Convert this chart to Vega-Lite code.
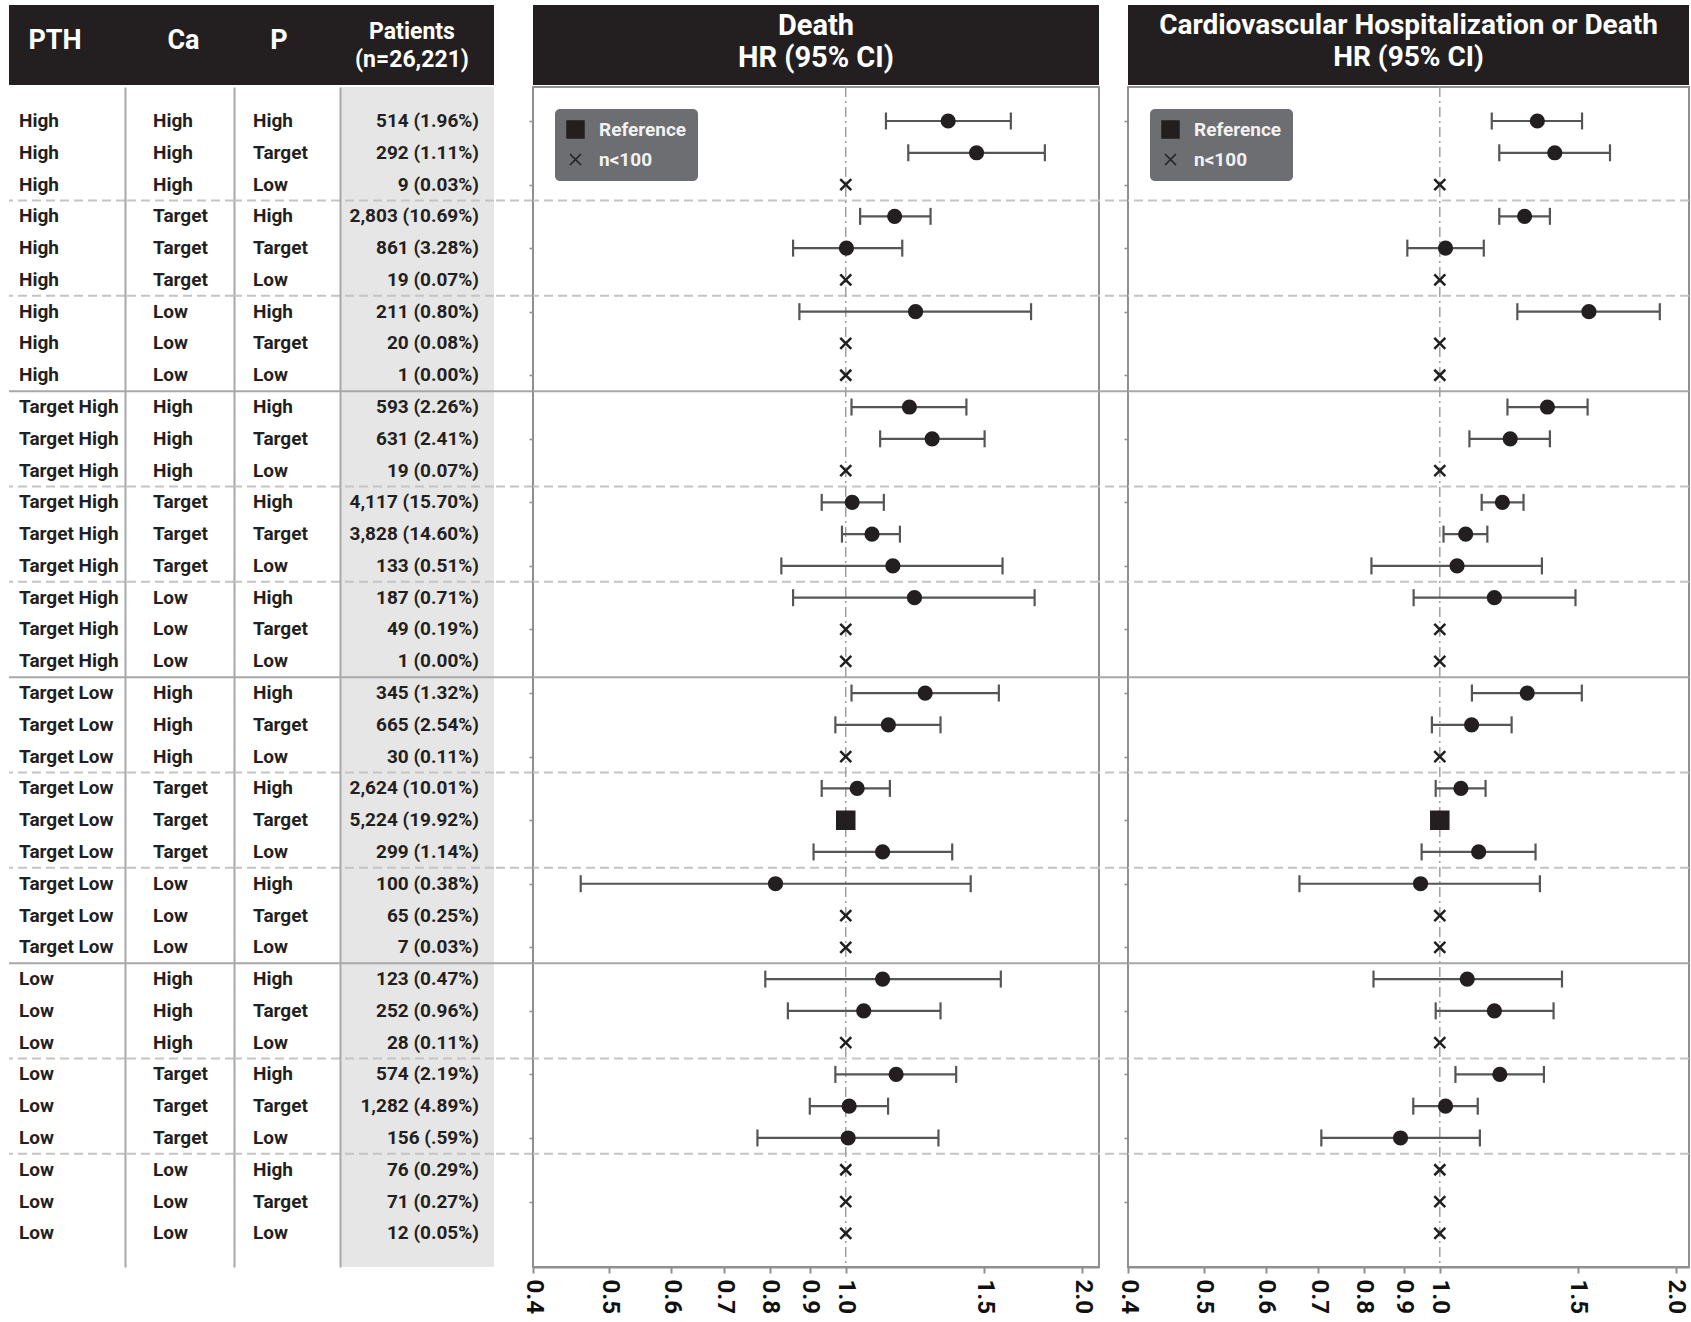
{
  "$schema": "https://vega.github.io/schema/vega-lite/v6.json",
  "background": "white",
  "padding": {"top": 5, "left": 8, "right": 0, "bottom": 0},
  "config": {
    "font": "Roboto, Liberation Sans, sans-serif",
    "view": {"stroke": null}
  },
  "datasets": {
    "headers": [
      {"key": "PTH", "label": "PTH"},
      {"key": "Ca", "label": "Ca"},
      {"key": "P", "label": "P"},
      {"key": "Patients", "label": "Patients\n(n=26,221)"},
      {"key": "Death", "label": "Death\nHR (95% CI)"},
      {"key": "CV", "label": "Cardiovascular Hospitalization or Death\nHR (95% CI)"}
    ],
    "seps": [
      {"sep": 3.5, "style": "dash"}, {"sep": 6.5, "style": "dash"}, {"sep": 9.5, "style": "solid"},
      {"sep": 12.5, "style": "dash"}, {"sep": 15.5, "style": "dash"}, {"sep": 18.5, "style": "solid"},
      {"sep": 21.5, "style": "dash"}, {"sep": 24.5, "style": "dash"}, {"sep": 27.5, "style": "solid"},
      {"sep": 30.5, "style": "dash"}, {"sep": 33.5, "style": "dash"}
    ],
    "refline": [{"hr": 1}],
    "rows": [
      {"row": 1, "pth": "High", "ca": "High", "p": "High", "n": "514 (1.96%)", "kind": "est", "dhr": 1.350, "dlo": 1.125, "dhi": 1.622, "chr": 1.332, "clo": 1.165, "chi": 1.519},
      {"row": 2, "pth": "High", "ca": "High", "p": "Target", "n": "292 (1.11%)", "kind": "est", "dhr": 1.467, "dlo": 1.201, "dhi": 1.792, "chr": 1.402, "clo": 1.191, "chi": 1.649},
      {"row": 3, "pth": "High", "ca": "High", "p": "Low", "n": "9 (0.03%)", "kind": "n<100", "dhr": 1, "chr": 1},
      {"row": 4, "pth": "High", "ca": "Target", "p": "High", "n": "2,803 (10.69%)", "kind": "est", "dhr": 1.154, "dlo": 1.043, "dhi": 1.282, "chr": 1.283, "clo": 1.191, "chi": 1.382},
      {"row": 5, "pth": "High", "ca": "Target", "p": "Target", "n": "861 (3.28%)", "kind": "est", "dhr": 1.002, "dlo": 0.857, "dhi": 1.180, "chr": 1.017, "clo": 0.909, "chi": 1.138},
      {"row": 6, "pth": "High", "ca": "Target", "p": "Low", "n": "19 (0.07%)", "kind": "n<100", "dhr": 1, "chr": 1},
      {"row": 7, "pth": "High", "ca": "Low", "p": "High", "n": "211 (0.80%)", "kind": "est", "dhr": 1.227, "dlo": 0.873, "dhi": 1.721, "chr": 1.550, "clo": 1.256, "chi": 1.909},
      {"row": 8, "pth": "High", "ca": "Low", "p": "Target", "n": "20 (0.08%)", "kind": "n<100", "dhr": 1, "chr": 1},
      {"row": 9, "pth": "High", "ca": "Low", "p": "Low", "n": "1 (0.00%)", "kind": "n<100", "dhr": 1, "chr": 1},
      {"row": 10, "pth": "Target High", "ca": "High", "p": "High", "n": "593 (2.26%)", "kind": "est", "dhr": 1.205, "dlo": 1.017, "dhi": 1.424, "chr": 1.372, "clo": 1.220, "chi": 1.544},
      {"row": 11, "pth": "Target High", "ca": "High", "p": "Target", "n": "631 (2.41%)", "kind": "est", "dhr": 1.288, "dlo": 1.106, "dhi": 1.502, "chr": 1.230, "clo": 1.091, "chi": 1.382},
      {"row": 12, "pth": "Target High", "ca": "High", "p": "Low", "n": "19 (0.07%)", "kind": "n<100", "dhr": 1, "chr": 1},
      {"row": 13, "pth": "Target High", "ca": "Target", "p": "High", "n": "4,117 (15.70%)", "kind": "est", "dhr": 1.019, "dlo": 0.932, "dhi": 1.118, "chr": 1.202, "clo": 1.131, "chi": 1.279},
      {"row": 14, "pth": "Target High", "ca": "Target", "p": "Target", "n": "3,828 (14.60%)", "kind": "est", "dhr": 1.080, "dlo": 0.989, "dhi": 1.172, "chr": 1.079, "clo": 1.011, "chi": 1.150},
      {"row": 15, "pth": "Target High", "ca": "Target", "p": "Low", "n": "133 (0.51%)", "kind": "est", "dhr": 1.148, "dlo": 0.828, "dhi": 1.583, "chr": 1.052, "clo": 0.818, "chi": 1.350},
      {"row": 16, "pth": "Target High", "ca": "Low", "p": "High", "n": "187 (0.71%)", "kind": "est", "dhr": 1.223, "dlo": 0.857, "dhi": 1.739, "chr": 1.174, "clo": 0.926, "chi": 1.490},
      {"row": 17, "pth": "Target High", "ca": "Low", "p": "Target", "n": "49 (0.19%)", "kind": "n<100", "dhr": 1, "chr": 1},
      {"row": 18, "pth": "Target High", "ca": "Low", "p": "Low", "n": "1 (0.00%)", "kind": "n<100", "dhr": 1, "chr": 1},
      {"row": 19, "pth": "Target Low", "ca": "High", "p": "High", "n": "345 (1.32%)", "kind": "est", "dhr": 1.262, "dlo": 1.017, "dhi": 1.566, "chr": 1.293, "clo": 1.099, "chi": 1.518},
      {"row": 20, "pth": "Target Low", "ca": "High", "p": "Target", "n": "665 (2.54%)", "kind": "est", "dhr": 1.133, "dlo": 0.970, "dhi": 1.320, "chr": 1.098, "clo": 0.977, "chi": 1.235},
      {"row": 21, "pth": "Target Low", "ca": "High", "p": "Low", "n": "30 (0.11%)", "kind": "n<100", "dhr": 1, "chr": 1},
      {"row": 22, "pth": "Target Low", "ca": "Target", "p": "High", "n": "2,624 (10.01%)", "kind": "est", "dhr": 1.034, "dlo": 0.932, "dhi": 1.138, "chr": 1.064, "clo": 0.988, "chi": 1.144},
      {"row": 23, "pth": "Target Low", "ca": "Target", "p": "Target", "n": "5,224 (19.92%)", "kind": "Reference", "dhr": 1, "chr": 1},
      {"row": 24, "pth": "Target Low", "ca": "Target", "p": "Low", "n": "299 (1.14%)", "kind": "est", "dhr": 1.114, "dlo": 0.910, "dhi": 1.366, "chr": 1.121, "clo": 0.948, "chi": 1.325},
      {"row": 25, "pth": "Target Low", "ca": "Low", "p": "High", "n": "100 (0.38%)", "kind": "est", "dhr": 0.814, "dlo": 0.460, "dhi": 1.442, "chr": 0.945, "clo": 0.662, "chi": 1.342},
      {"row": 26, "pth": "Target Low", "ca": "Low", "p": "Target", "n": "65 (0.25%)", "kind": "n<100", "dhr": 1, "chr": 1},
      {"row": 27, "pth": "Target Low", "ca": "Low", "p": "Low", "n": "7 (0.03%)", "kind": "n<100", "dhr": 1, "chr": 1},
      {"row": 28, "pth": "Low", "ca": "High", "p": "High", "n": "123 (0.47%)", "kind": "est", "dhr": 1.114, "dlo": 0.790, "dhi": 1.575, "chr": 1.084, "clo": 0.823, "chi": 1.432},
      {"row": 29, "pth": "Low", "ca": "High", "p": "Target", "n": "252 (0.96%)", "kind": "est", "dhr": 1.054, "dlo": 0.844, "dhi": 1.320, "chr": 1.174, "clo": 0.988, "chi": 1.397},
      {"row": 30, "pth": "Low", "ca": "High", "p": "Low", "n": "28 (0.11%)", "kind": "n<100", "dhr": 1, "chr": 1},
      {"row": 31, "pth": "Low", "ca": "Target", "p": "High", "n": "574 (2.19%)", "kind": "est", "dhr": 1.159, "dlo": 0.970, "dhi": 1.382, "chr": 1.193, "clo": 1.047, "chi": 1.358},
      {"row": 32, "pth": "Low", "ca": "Target", "p": "Target", "n": "1,282 (4.89%)", "kind": "est", "dhr": 1.010, "dlo": 0.900, "dhi": 1.132, "chr": 1.017, "clo": 0.925, "chi": 1.118},
      {"row": 33, "pth": "Low", "ca": "Target", "p": "Low", "n": "156 (.59%)", "kind": "est", "dhr": 1.007, "dlo": 0.772, "dhi": 1.312, "chr": 0.891, "clo": 0.706, "chi": 1.125},
      {"row": 34, "pth": "Low", "ca": "Low", "p": "High", "n": "76 (0.29%)", "kind": "n<100", "dhr": 1, "chr": 1},
      {"row": 35, "pth": "Low", "ca": "Low", "p": "Target", "n": "71 (0.27%)", "kind": "n<100", "dhr": 1, "chr": 1},
      {"row": 36, "pth": "Low", "ca": "Low", "p": "Low", "n": "12 (0.05%)", "kind": "n<100", "dhr": 1, "chr": 1}
    ]
  },
  "spacing": 0,
  "resolve": {"scale": {"shape": "independent", "size": "independent", "strokeDash": "independent", "color": "independent"}, "legend": {"shape": "independent", "size": "independent"}},
  "vconcat": [
    {
      "bounds": "flush",
      "spacing": 0,
      "hconcat": [
        {"width": 116, "height": 80, "view": {"fill": "#231f20", "stroke": null}, "data": {"name": "headers"}, "transform": [{"filter": "datum.key == 'PTH'"}],
         "mark": {"type": "text", "color": "white", "fontSize": 27, "fontWeight": "bold", "align": "center", "baseline": "middle", "dx": -12, "dy": -4, "lineBreak": "\n"},
         "encoding": {"text": {"field": "label"}}},
        {"width": 109, "height": 80, "view": {"fill": "#231f20", "stroke": null}, "data": {"name": "headers"}, "transform": [{"filter": "datum.key == 'Ca'"}],
         "mark": {"type": "text", "color": "white", "fontSize": 27, "fontWeight": "bold", "align": "center", "baseline": "middle", "dx": 4, "dy": -4, "lineBreak": "\n"},
         "encoding": {"text": {"field": "label"}}},
        {"width": 106, "height": 80, "view": {"fill": "#231f20", "stroke": null}, "data": {"name": "headers"}, "transform": [{"filter": "datum.key == 'P'"}],
         "mark": {"type": "text", "color": "white", "fontSize": 27, "fontWeight": "bold", "align": "center", "baseline": "middle", "dx": -8, "dy": -4, "lineBreak": "\n"},
         "encoding": {"text": {"field": "label"}}},
        {"width": 154, "height": 80, "view": {"fill": "#231f20", "stroke": null}, "data": {"name": "headers"}, "transform": [{"filter": "datum.key == 'Patients'"}],
         "mark": {"type": "text", "color": "white", "fontSize": 23, "fontWeight": "bold", "align": "center", "baseline": "middle", "dx": -5, "dy": -13, "lineBreak": "\n", "lineHeight": 28},
         "encoding": {"text": {"field": "label"}}},
        {"width": 39, "height": 80, "data": {"values": []}, "mark": "text", "encoding": {}},
        {"width": 566, "height": 80, "view": {"fill": "#231f20", "stroke": null}, "data": {"name": "headers"}, "transform": [{"filter": "datum.key == 'Death'"}],
         "mark": {"type": "text", "color": "white", "fontSize": 29, "fontWeight": "bold", "align": "center", "baseline": "middle", "dy": -19, "lineBreak": "\n", "lineHeight": 32},
         "encoding": {"text": {"field": "label"}}},
        {"width": 29, "height": 80, "data": {"values": []}, "mark": "text", "encoding": {}},
        {"width": 561, "height": 80, "view": {"fill": "#231f20", "stroke": null}, "data": {"name": "headers"}, "transform": [{"filter": "datum.key == 'CV'"}],
         "mark": {"type": "text", "color": "white", "fontSize": 28, "fontWeight": "bold", "align": "center", "baseline": "middle", "dy": -19, "lineBreak": "\n", "lineHeight": 32},
         "encoding": {"text": {"field": "label"}}}
      ]
    },
    {
      "bounds": "flush",
      "spacing": 0,
      "resolve": {"scale": {"shape": "independent", "size": "independent", "strokeDash": "independent", "color": "independent"}, "legend": {"shape": "independent", "size": "independent"}},
      "hconcat": [
        {"width": 116, "height": 1180,
         "layer": [
           {"data": {"name": "seps"}, "mark": {"type": "rule", "strokeWidth": 2},
            "encoding": {"y": {"field": "sep", "type": "quantitative", "scale": {"domain": [-0.07, 37.06], "reverse": true, "nice": false, "zero": false}, "axis": null},
                         "strokeDash": {"field": "style", "type": "nominal", "scale": {"domain": ["dash", "solid"], "range": [[9, 5], [1, 0]]}, "legend": null},
                         "color": {"field": "style", "type": "nominal", "scale": {"domain": ["dash", "solid"], "range": ["#c4c4c4", "#a8a8a8"]}, "legend": null}}},
           {"data": {"name": "rows"}, "mark": {"type": "text", "align": "left", "baseline": "middle", "dx": 10, "fontSize": 19, "fontWeight": "bold", "color": "#231f20"},
            "encoding": {"y": {"field": "row", "type": "quantitative", "scale": {"domain": [-0.07, 37.06], "reverse": true, "nice": false, "zero": false}, "axis": null},
                         "x": {"datum": "PTH", "type": "nominal", "bandPosition": 0, "scale": {"type": "band", "paddingInner": 0, "paddingOuter": 0}, "axis": null},
                         "text": {"field": "pth"}}}
         ]},
        {"width": 109, "height": 1180,
         "layer": [
           {"data": {"name": "seps"}, "mark": {"type": "rule", "strokeWidth": 2},
            "encoding": {"y": {"field": "sep", "type": "quantitative", "scale": {"domain": [-0.07, 37.06], "reverse": true, "nice": false, "zero": false}, "axis": {"domain": true, "domainColor": "#a8a8a8", "domainWidth": 2, "ticks": false, "labels": false, "grid": false, "title": null}},
                         "strokeDash": {"field": "style", "type": "nominal", "scale": {"domain": ["dash", "solid"], "range": [[9, 5], [1, 0]]}, "legend": null},
                         "color": {"field": "style", "type": "nominal", "scale": {"domain": ["dash", "solid"], "range": ["#c4c4c4", "#a8a8a8"]}, "legend": null}}},
           {"data": {"name": "rows"}, "mark": {"type": "text", "align": "left", "baseline": "middle", "dx": 28, "fontSize": 19, "fontWeight": "bold", "color": "#231f20"},
            "encoding": {"y": {"field": "row", "type": "quantitative", "scale": {"domain": [-0.07, 37.06], "reverse": true, "nice": false, "zero": false}, "axis": {"domain": true, "domainColor": "#a8a8a8", "domainWidth": 2, "ticks": false, "labels": false, "grid": false, "title": null}},
                         "x": {"datum": "Ca", "type": "nominal", "bandPosition": 0, "scale": {"type": "band", "paddingInner": 0, "paddingOuter": 0}, "axis": null},
                         "text": {"field": "ca"}}}
         ]},
        {"width": 106, "height": 1180,
         "layer": [
           {"data": {"name": "seps"}, "mark": {"type": "rule", "strokeWidth": 2},
            "encoding": {"y": {"field": "sep", "type": "quantitative", "scale": {"domain": [-0.07, 37.06], "reverse": true, "nice": false, "zero": false}, "axis": {"domain": true, "domainColor": "#a8a8a8", "domainWidth": 2, "ticks": false, "labels": false, "grid": false, "title": null}},
                         "strokeDash": {"field": "style", "type": "nominal", "scale": {"domain": ["dash", "solid"], "range": [[9, 5], [1, 0]]}, "legend": null},
                         "color": {"field": "style", "type": "nominal", "scale": {"domain": ["dash", "solid"], "range": ["#c4c4c4", "#a8a8a8"]}, "legend": null}}},
           {"data": {"name": "rows"}, "mark": {"type": "text", "align": "left", "baseline": "middle", "dx": 19, "fontSize": 19, "fontWeight": "bold", "color": "#231f20"},
            "encoding": {"y": {"field": "row", "type": "quantitative", "scale": {"domain": [-0.07, 37.06], "reverse": true, "nice": false, "zero": false}, "axis": {"domain": true, "domainColor": "#a8a8a8", "domainWidth": 2, "ticks": false, "labels": false, "grid": false, "title": null}},
                         "x": {"datum": "P", "type": "nominal", "bandPosition": 0, "scale": {"type": "band", "paddingInner": 0, "paddingOuter": 0}, "axis": null},
                         "text": {"field": "p"}}}
         ]},
        {"width": 154, "height": 1180, "view": {"fill": "#e6e6e6", "stroke": null},
         "layer": [
           {"data": {"name": "seps"}, "mark": {"type": "rule", "strokeWidth": 2},
            "encoding": {"y": {"field": "sep", "type": "quantitative", "scale": {"domain": [-0.07, 37.06], "reverse": true, "nice": false, "zero": false}, "axis": {"domain": true, "domainColor": "#a8a8a8", "domainWidth": 2, "ticks": false, "labels": false, "grid": false, "title": null}},
                         "strokeDash": {"field": "style", "type": "nominal", "scale": {"domain": ["dash", "solid"], "range": [[9, 5], [1, 0]]}, "legend": null},
                         "color": {"field": "style", "type": "nominal", "scale": {"domain": ["dash", "solid"], "range": ["#c4c4c4", "#a8a8a8"]}, "legend": null}}},
           {"data": {"name": "rows"}, "mark": {"type": "text", "align": "right", "baseline": "middle", "dx": -15, "fontSize": 19, "fontWeight": "bold", "color": "#231f20"},
            "encoding": {"y": {"field": "row", "type": "quantitative", "scale": {"domain": [-0.07, 37.06], "reverse": true, "nice": false, "zero": false}, "axis": {"domain": true, "domainColor": "#a8a8a8", "domainWidth": 2, "ticks": false, "labels": false, "grid": false, "title": null}},
                         "x": {"datum": "Patients", "type": "nominal", "bandPosition": 1, "scale": {"type": "band", "paddingInner": 0, "paddingOuter": 0}, "axis": null},
                         "text": {"field": "n"}}}
         ]},
        {"width": 39, "height": 1180,
         "layer": [
           {"data": {"name": "seps"}, "mark": {"type": "rule", "strokeWidth": 2},
            "encoding": {"y": {"field": "sep", "type": "quantitative", "scale": {"domain": [-0.07, 37.06], "reverse": true, "nice": false, "zero": false}, "axis": null},
                         "strokeDash": {"field": "style", "type": "nominal", "scale": {"domain": ["dash", "solid"], "range": [[9, 5], [1, 0]]}, "legend": null},
                         "color": {"field": "style", "type": "nominal", "scale": {"domain": ["dash", "solid"], "range": ["#c4c4c4", "#a8a8a8"]}, "legend": null}}}
         ]},
        {"width": 566, "height": 1180, "view": {"stroke": "#8f8f8f", "strokeWidth": 2},
         "layer": [
           {"data": {"name": "seps"}, "mark": {"type": "rule", "strokeWidth": 2},
            "encoding": {"y": {"field": "sep", "type": "quantitative", "scale": {"domain": [-0.07, 37.06], "reverse": true, "nice": false, "zero": false}, "axis": {"domain": false, "ticks": true, "tickSize": 4, "tickColor": "#8f8f8f", "tickWidth": 1.5, "labels": false, "grid": false, "title": null, "values": [1,2,3,4,5,6,7,8,9,10,11,12,13,14,15,16,17,18,19,20,21,22,23,24,25,26,27,28,29,30,31,32,33,34,35,36]}},
                         "strokeDash": {"field": "style", "type": "nominal", "scale": {"domain": ["dash", "solid"], "range": [[9, 5], [1, 0]]}, "legend": null},
                         "color": {"field": "style", "type": "nominal", "scale": {"domain": ["dash", "solid"], "range": ["#c4c4c4", "#a8a8a8"]}, "legend": null}}},
           {"data": {"name": "refline"}, "mark": {"type": "rule", "color": "#a0a0a0", "strokeWidth": 1.5, "strokeDash": [10, 4, 2, 4]},
            "encoding": {"x": {"field": "hr", "type": "quantitative", "scale": {"type": "log", "domain": [0.4, 2.1], "nice": false}, "axis": {"values": [0.4, 0.5, 0.6, 0.7, 0.8, 0.9, 1, 1.5, 2], "format": ".1f", "labelAngle": 90, "labelFontSize": 24, "labelFontWeight": "bold", "labelColor": "#111111", "labelFlush": false, "labelOverlap": false, "labelBound": false, "labelPadding": 6, "tickSize": 6, "tickColor": "#8f8f8f", "tickWidth": 2, "domainColor": "#8f8f8f", "domainWidth": 2, "grid": false, "title": null}}}},
           {"data": {"name": "rows"}, "transform": [{"filter": {"field": "kind", "equal": "est"}}], "mark": {"type": "rule", "color": "#555555", "strokeWidth": 2.2},
            "encoding": {"x": {"field": "dlo", "type": "quantitative", "scale": {"type": "log", "domain": [0.4, 2.1], "nice": false}},
                         "x2": {"field": "dhi"},
                         "y": {"field": "row", "type": "quantitative", "scale": {"domain": [-0.07, 37.06], "reverse": true, "nice": false, "zero": false}}}},
           {"data": {"name": "rows"}, "transform": [{"filter": {"field": "kind", "equal": "est"}}], "mark": {"type": "tick", "orient": "vertical", "color": "#555555", "thickness": 2.2, "size": 17, "opacity": 1},
            "encoding": {"x": {"field": "dlo", "type": "quantitative", "scale": {"type": "log", "domain": [0.4, 2.1], "nice": false}},
                         "y": {"field": "row", "type": "quantitative", "scale": {"domain": [-0.07, 37.06], "reverse": true, "nice": false, "zero": false}}}},
           {"data": {"name": "rows"}, "transform": [{"filter": {"field": "kind", "equal": "est"}}], "mark": {"type": "tick", "orient": "vertical", "color": "#555555", "thickness": 2.2, "size": 17, "opacity": 1},
            "encoding": {"x": {"field": "dhi", "type": "quantitative", "scale": {"type": "log", "domain": [0.4, 2.1], "nice": false}},
                         "y": {"field": "row", "type": "quantitative", "scale": {"domain": [-0.07, 37.06], "reverse": true, "nice": false, "zero": false}}}},
           {"data": {"name": "rows"}, "transform": [{"filter": {"field": "kind", "equal": "est"}}], "mark": {"type": "point", "shape": "circle", "filled": true, "color": "#231f20", "size": 230, "opacity": 1},
            "encoding": {"x": {"field": "dhr", "type": "quantitative", "scale": {"type": "log", "domain": [0.4, 2.1], "nice": false}},
                         "y": {"field": "row", "type": "quantitative", "scale": {"domain": [-0.07, 37.06], "reverse": true, "nice": false, "zero": false}}}},
           {"data": {"name": "rows"}, "transform": [{"filter": {"field": "kind", "oneOf": ["Reference", "n<100"]}}], "mark": {"type": "point", "filled": true, "color": "#231f20", "stroke": "#231f20", "strokeWidth": 2.5, "opacity": 1},
            "encoding": {"x": {"field": "dhr", "type": "quantitative", "scale": {"type": "log", "domain": [0.4, 2.1], "nice": false}},
                         "y": {"field": "row", "type": "quantitative", "scale": {"domain": [-0.07, 37.06], "reverse": true, "nice": false, "zero": false}},
                         "shape": {"field": "kind", "type": "ordinal", "scale": {"domain": ["Reference", "n<100"], "range": ["square", "M-1,-1L1,1M1,-1L-1,1"]},
                                   "legend": {"title": null, "orient": "top-left", "offset": 22, "fillColor": "#6d6e71", "cornerRadius": 5, "padding": 11, "labelColor": "#f2f2f2", "labelFontSize": 19, "labelFontWeight": "bold", "labelOffset": 14, "rowPadding": 9,
                                              "encode": {"symbols": {"update": {"fill": {"value": "#ffffff"}, "stroke": {"value": "#ffffff"}, "strokeWidth": {"value": 2}, "opacity": {"value": 1}}}}}},
                         "size": {"field": "kind", "type": "ordinal", "scale": {"domain": ["Reference", "n<100"], "range": [289, 121]},
                                  "legend": {"title": null, "orient": "top-left", "offset": 22, "fillColor": "#6d6e71", "cornerRadius": 5, "padding": 11, "labelColor": "#f2f2f2", "labelFontSize": 19, "labelFontWeight": "bold", "labelOffset": 14, "rowPadding": 9,
                                             "encode": {"symbols": {"update": {"fill": {"value": "#ffffff"}, "stroke": {"value": "#ffffff"}, "strokeWidth": {"value": 2}, "opacity": {"value": 1}}}}}}}}
         ]},
        {"width": 29, "height": 1180,
         "layer": [
           {"data": {"name": "seps"}, "mark": {"type": "rule", "strokeWidth": 2},
            "encoding": {"y": {"field": "sep", "type": "quantitative", "scale": {"domain": [-0.07, 37.06], "reverse": true, "nice": false, "zero": false}, "axis": null},
                         "strokeDash": {"field": "style", "type": "nominal", "scale": {"domain": ["dash", "solid"], "range": [[9, 5], [1, 0]]}, "legend": null},
                         "color": {"field": "style", "type": "nominal", "scale": {"domain": ["dash", "solid"], "range": ["#c4c4c4", "#a8a8a8"]}, "legend": null}}}
         ]},
        {"width": 561, "height": 1180, "view": {"stroke": "#8f8f8f", "strokeWidth": 2},
         "layer": [
           {"data": {"name": "seps"}, "mark": {"type": "rule", "strokeWidth": 2},
            "encoding": {"y": {"field": "sep", "type": "quantitative", "scale": {"domain": [-0.07, 37.06], "reverse": true, "nice": false, "zero": false}, "axis": {"domain": false, "ticks": true, "tickSize": 4, "tickColor": "#8f8f8f", "tickWidth": 1.5, "labels": false, "grid": false, "title": null, "values": [1,2,3,4,5,6,7,8,9,10,11,12,13,14,15,16,17,18,19,20,21,22,23,24,25,26,27,28,29,30,31,32,33,34,35,36]}},
                         "strokeDash": {"field": "style", "type": "nominal", "scale": {"domain": ["dash", "solid"], "range": [[9, 5], [1, 0]]}, "legend": null},
                         "color": {"field": "style", "type": "nominal", "scale": {"domain": ["dash", "solid"], "range": ["#c4c4c4", "#a8a8a8"]}, "legend": null}}},
           {"data": {"name": "refline"}, "mark": {"type": "rule", "color": "#a0a0a0", "strokeWidth": 1.5, "strokeDash": [10, 4, 2, 4]},
            "encoding": {"x": {"field": "hr", "type": "quantitative", "scale": {"type": "log", "domain": [0.4, 2.08], "nice": false}, "axis": {"values": [0.4, 0.5, 0.6, 0.7, 0.8, 0.9, 1, 1.5, 2], "format": ".1f", "labelAngle": 90, "labelFontSize": 24, "labelFontWeight": "bold", "labelColor": "#111111", "labelFlush": false, "labelOverlap": false, "labelBound": false, "labelPadding": 6, "tickSize": 6, "tickColor": "#8f8f8f", "tickWidth": 2, "domainColor": "#8f8f8f", "domainWidth": 2, "grid": false, "title": null}}}},
           {"data": {"name": "rows"}, "transform": [{"filter": {"field": "kind", "equal": "est"}}], "mark": {"type": "rule", "color": "#555555", "strokeWidth": 2.2},
            "encoding": {"x": {"field": "clo", "type": "quantitative", "scale": {"type": "log", "domain": [0.4, 2.08], "nice": false}},
                         "x2": {"field": "chi"},
                         "y": {"field": "row", "type": "quantitative", "scale": {"domain": [-0.07, 37.06], "reverse": true, "nice": false, "zero": false}}}},
           {"data": {"name": "rows"}, "transform": [{"filter": {"field": "kind", "equal": "est"}}], "mark": {"type": "tick", "orient": "vertical", "color": "#555555", "thickness": 2.2, "size": 17, "opacity": 1},
            "encoding": {"x": {"field": "clo", "type": "quantitative", "scale": {"type": "log", "domain": [0.4, 2.08], "nice": false}},
                         "y": {"field": "row", "type": "quantitative", "scale": {"domain": [-0.07, 37.06], "reverse": true, "nice": false, "zero": false}}}},
           {"data": {"name": "rows"}, "transform": [{"filter": {"field": "kind", "equal": "est"}}], "mark": {"type": "tick", "orient": "vertical", "color": "#555555", "thickness": 2.2, "size": 17, "opacity": 1},
            "encoding": {"x": {"field": "chi", "type": "quantitative", "scale": {"type": "log", "domain": [0.4, 2.08], "nice": false}},
                         "y": {"field": "row", "type": "quantitative", "scale": {"domain": [-0.07, 37.06], "reverse": true, "nice": false, "zero": false}}}},
           {"data": {"name": "rows"}, "transform": [{"filter": {"field": "kind", "equal": "est"}}], "mark": {"type": "point", "shape": "circle", "filled": true, "color": "#231f20", "size": 230, "opacity": 1},
            "encoding": {"x": {"field": "chr", "type": "quantitative", "scale": {"type": "log", "domain": [0.4, 2.08], "nice": false}},
                         "y": {"field": "row", "type": "quantitative", "scale": {"domain": [-0.07, 37.06], "reverse": true, "nice": false, "zero": false}}}},
           {"data": {"name": "rows"}, "transform": [{"filter": {"field": "kind", "oneOf": ["Reference", "n<100"]}}], "mark": {"type": "point", "filled": true, "color": "#231f20", "stroke": "#231f20", "strokeWidth": 2.5, "opacity": 1},
            "encoding": {"x": {"field": "chr", "type": "quantitative", "scale": {"type": "log", "domain": [0.4, 2.08], "nice": false}},
                         "y": {"field": "row", "type": "quantitative", "scale": {"domain": [-0.07, 37.06], "reverse": true, "nice": false, "zero": false}},
                         "shape": {"field": "kind", "type": "ordinal", "scale": {"domain": ["Reference", "n<100"], "range": ["square", "M-1,-1L1,1M1,-1L-1,1"]},
                                   "legend": {"title": null, "orient": "top-left", "offset": 22, "fillColor": "#6d6e71", "cornerRadius": 5, "padding": 11, "labelColor": "#f2f2f2", "labelFontSize": 19, "labelFontWeight": "bold", "labelOffset": 14, "rowPadding": 9,
                                              "encode": {"symbols": {"update": {"fill": {"value": "#ffffff"}, "stroke": {"value": "#ffffff"}, "strokeWidth": {"value": 2}, "opacity": {"value": 1}}}}}},
                         "size": {"field": "kind", "type": "ordinal", "scale": {"domain": ["Reference", "n<100"], "range": [289, 121]},
                                  "legend": {"title": null, "orient": "top-left", "offset": 22, "fillColor": "#6d6e71", "cornerRadius": 5, "padding": 11, "labelColor": "#f2f2f2", "labelFontSize": 19, "labelFontWeight": "bold", "labelOffset": 14, "rowPadding": 9,
                                             "encode": {"symbols": {"update": {"fill": {"value": "#ffffff"}, "stroke": {"value": "#ffffff"}, "strokeWidth": {"value": 2}, "opacity": {"value": 1}}}}}}}}
         ]}
      ]
    }
  ]
}
